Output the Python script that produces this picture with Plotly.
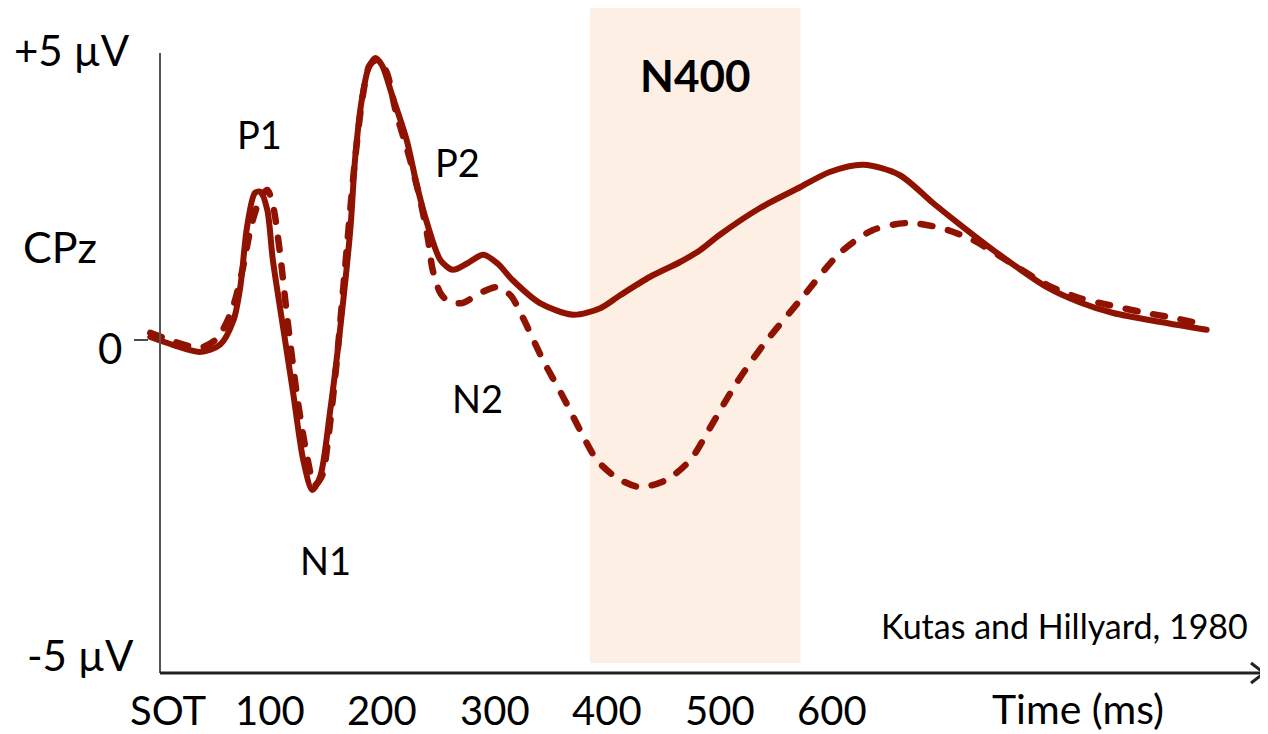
import plotly.graph_objects as go

# ---- data (time in ms, amplitude in µV) ----
solid_t = [-6, 14, 38, 56, 68, 74, 80, 87, 92, 98, 103, 112, 121, 130, 138, 145, 154, 163, 172, 176, 182,
           188, 194, 200, 209, 222, 231, 240, 252, 263, 276, 290, 303, 316, 340, 370, 394, 412, 438, 465,
           483, 500, 536, 572, 598, 628, 660, 690, 714, 749, 791, 820, 850, 892, 933]
solid_v = [0.05, -0.08, -0.2, -0.08, 0.33, 0.88, 1.88, 2.45, 2.47, 2.17, 1.33, 0.22, -0.88, -2.0, -2.5, -2.28,
           -1.17, 0.22, 1.88, 3.0, 4.0, 4.53, 4.7, 4.58, 4.08, 3.33, 2.58, 1.95, 1.33, 1.17, 1.28, 1.42, 1.27,
           1.0, 0.62, 0.42, 0.53, 0.75, 1.05, 1.3, 1.5, 1.75, 2.2, 2.55, 2.8, 2.92, 2.75, 2.28, 1.92, 1.42,
           0.88, 0.63, 0.45, 0.3, 0.17]

dashed_t = [-6, 16, 38, 52, 60, 68, 76, 84, 92, 98, 103, 109, 116, 125, 134, 140, 147, 152, 159, 167, 176,
            183, 189, 196, 204, 212, 225, 234, 241, 245, 252, 260, 272, 287, 302, 314, 325, 343, 361, 376,
            391, 409, 429, 453, 474, 492, 514, 539, 572, 607, 636, 667, 696, 725, 749, 791, 820, 847, 874,
            903, 933]
dashed_v = [0.12, -0.03, -0.13, 0.0, 0.22, 0.58, 1.17, 1.92, 2.37, 2.5, 2.25, 1.5, 0.33, -1.0, -2.0, -2.42,
            -2.25, -1.67, -0.5, 1.17, 3.0, 4.08, 4.58, 4.67, 4.47, 3.83, 3.0, 2.33, 1.67, 1.17, 0.78, 0.63,
            0.62, 0.78, 0.88, 0.75, 0.38, -0.33, -0.95, -1.5, -2.0, -2.3, -2.45, -2.33, -2.0, -1.45, -0.75,
            -0.08, 0.67, 1.45, 1.83, 1.95, 1.87, 1.67, 1.4, 0.92, 0.7, 0.58, 0.47, 0.37, 0.25]

tick_ms = [0, 100, 200, 300, 400, 500, 600]
tick_labels = ["SOT", "100", "200", "300", "400", "500", "600"]

n400_window = [385, 572]          # ms
y_labels = ["+5 µV", "0", "-5 µV"]
y_label_vals = [5, 0, -5]

components = ["P1", "N1", "P2", "N2"]
component_ms = [91, 150, 267, 285]
component_uv = [3.43, -3.67, 2.97, -0.97]

# ---- pixel <-> data mapping (page pixels; the page body has an 8px margin) ----
OFF = 8
W, H = 1268 - OFF, 734 - OFF
X0PX, XSCALE = 157, 1.125       # page px at 0 ms, px per ms
Y0PX, YSCALE = 340, 60          # page px at 0 µV, px per µV


def px2x(px):
    return (px - X0PX) / XSCALE


def px2y(py):
    return (Y0PX - py) / YSCALE


def pxp(px):   # page px -> paper x
    return (px - OFF) / W


def pyp(py):   # page px -> paper y
    return 1 - (py - OFF) / H


RED = "#8f1300"
FONT = "Lato"

fig = go.Figure()

# N400 window
fig.add_shape(type="rect", x0=n400_window[0], x1=n400_window[1], y0=px2y(663), y1=px2y(8),
              fillcolor="#fdefe4", line_width=0, layer="below")

fig.add_trace(go.Scatter(x=dashed_t, y=dashed_v, mode="lines",
                         line=dict(color=RED, width=6.5, dash="12px,16px", shape="spline", smoothing=0.8),
                         hoverinfo="skip", showlegend=False))
fig.add_trace(go.Scatter(x=solid_t, y=solid_v, mode="lines",
                         line=dict(color=RED, width=6, shape="spline", smoothing=0.8),
                         hoverinfo="skip", showlegend=False))

# axes
fig.add_shape(type="line", xref="paper", yref="paper", x0=pxp(160), x1=pxp(160),
              y0=pyp(53), y1=pyp(673), line=dict(color="#555555", width=2))
fig.add_shape(type="line", xref="paper", yref="paper", x0=pxp(160), x1=pxp(1264),
              y0=pyp(673), y1=pyp(673), line=dict(color="#222222", width=3))
fig.add_shape(type="path", xref="paper", yref="paper",
              path=f"M {pxp(1251)} {pyp(663)} L {pxp(1264)} {pyp(673)} L {pxp(1251)} {pyp(683)}",
              line=dict(color="#222222", width=3))
# zero tick
fig.add_shape(type="line", xref="paper", x0=pxp(134), x1=pxp(148), y0=0, y1=0,
              line=dict(color="#111111", width=1.5))

ann = []
# x tick labels
for ms, lab in zip(tick_ms, tick_labels):
    ann.append(dict(x=ms, y=px2y(710), text=lab, showarrow=False, xshift=11 if lab == "SOT" else 0,
                    font=dict(size=40, color="black", family=FONT), xanchor="center", yanchor="middle"))
# y labels
y_label_px = {"+5 µV": (72, 50), "0": (110, 348), "-5 µV": (80, 655)}
for lab, v in zip(y_labels, y_label_vals):
    px, py = y_label_px[lab]
    ann.append(dict(x=px2x(px), y=px2y(py), text=lab, showarrow=False,
                    font=dict(size=42, color="black", family=FONT), xanchor="center", yanchor="middle"))
# component labels
for lab, ms, uv in zip(components, component_ms, component_uv):
    ann.append(dict(x=ms, y=uv, text=lab, showarrow=False,
                    font=dict(size=38, color="black", family=FONT), xanchor="center", yanchor="middle"))

ann.append(dict(x=px2x(60), y=px2y(246), text="CPz", showarrow=False,
                font=dict(size=43, color="black", family=FONT)))
ann.append(dict(x=(n400_window[0] + n400_window[1]) / 2, y=px2y(75), text="<b>N400</b>", showarrow=False,
                font=dict(size=44, color="black", family=FONT)))
ann.append(dict(x=px2x(1250), y=px2y(625), text="Kutas and Hillyard, 1980", showarrow=False,
                xanchor="right", font=dict(size=34, color="black", family=FONT)))
ann.append(dict(x=px2x(1078), y=px2y(708), text="Time (ms)", showarrow=False,
                font=dict(size=41, color="black", family=FONT)))

fig.update_layout(
    width=W, height=H, margin=dict(l=0, r=0, t=0, b=0),
    paper_bgcolor="white", plot_bgcolor="white",
    xaxis=dict(range=[px2x(OFF), px2x(OFF + W)], visible=False, fixedrange=True),
    yaxis=dict(range=[px2y(OFF + H), px2y(OFF)], visible=False, fixedrange=True),
    annotations=ann,
)

round_caps = ("document.querySelectorAll('.scatterlayer path.js-line')"
              ".forEach(function(p){p.style.strokeLinecap='round';p.style.strokeLinejoin='round';});")
fig.write_html("out.html", post_script=round_caps)
